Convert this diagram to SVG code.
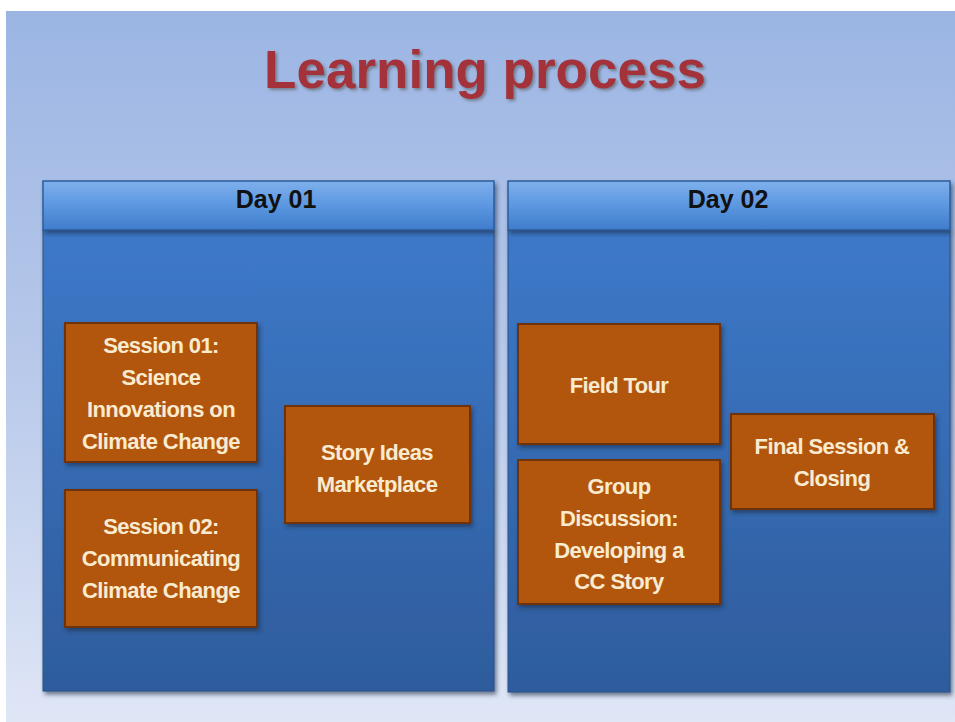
<svg xmlns="http://www.w3.org/2000/svg" width="955" height="722" viewBox="0 0 955 722">
<defs>
<linearGradient id="bg" x1="0" y1="0" x2="0" y2="1">
<stop offset="0" stop-color="#9bb5e3"/>
<stop offset="0.5" stop-color="#b8c9ea"/>
<stop offset="1" stop-color="#dfe6f6"/>
</linearGradient>
<linearGradient id="panel" x1="0" y1="0" x2="0" y2="1">
<stop offset="0" stop-color="#3d79c9"/>
<stop offset="1" stop-color="#2e5c9c"/>
</linearGradient>
<linearGradient id="head" x1="0" y1="0" x2="0" y2="1">
<stop offset="0" stop-color="#7eb0ec"/>
<stop offset="0.5" stop-color="#5c97e0"/>
<stop offset="1" stop-color="#3f7ccc"/>
</linearGradient>
<filter id="sh" x="-10%" y="-10%" width="125%" height="130%">
<feDropShadow dx="2" dy="3" stdDeviation="2" flood-color="#1a2a45" flood-opacity="0.6"/>
</filter>
<filter id="tsh" x="-10%" y="-20%" width="120%" height="150%">
<feDropShadow dx="2" dy="2" stdDeviation="1.5" flood-color="#555" flood-opacity="0.6"/>
</filter>
</defs>
<style>
.box{fill:#b2560f;stroke:#6e3208;stroke-width:2;filter:url(#sh)}
.bt{font-family:"Liberation Sans",Arial,sans-serif;font-weight:bold;font-size:22px;fill:#f9ebd0;text-anchor:middle;letter-spacing:-0.6px}
.day{font-family:"Liberation Sans",Arial,sans-serif;font-weight:bold;font-size:25px;fill:#111;text-anchor:middle}
.hd{fill:url(#head);stroke:#2d5c9a;stroke-width:1.5;filter:url(#sh)}
.pn{fill:url(#panel);stroke:#2a528a;stroke-width:1;filter:url(#sh)}
</style>
<rect x="0" y="0" width="955" height="722" fill="#ffffff"/>
<rect x="6" y="11" width="949" height="711" fill="url(#bg)"/>
<text x="485" y="88" font-family="Liberation Sans,Arial,sans-serif" font-weight="bold" font-size="53" fill="#a3323a" text-anchor="middle" filter="url(#tsh)">Learning process</text>

<g id="day01">
<rect class="pn" x="43" y="230" width="451" height="461"/>
<rect class="hd" x="43" y="181" width="451" height="49"/>
<text class="day" x="276" y="208">Day 01</text>
</g>
<g id="day02">
<rect class="pn" x="508" y="230" width="442" height="462"/>
<rect class="hd" x="508" y="181" width="442" height="49"/>
<text class="day" x="728" y="208">Day 02</text>
</g>

<g id="session01">
<rect class="box" x="65" y="323" width="192" height="139"/>
<text class="bt" x="161" y="353">Session 01:</text>
<text class="bt" x="161" y="385">Science</text>
<text class="bt" x="161" y="417">Innovations on</text>
<text class="bt" x="161" y="449">Climate Change</text>
</g>
<g id="session02">
<rect class="box" x="65" y="490" width="192" height="137"/>
<text class="bt" x="161" y="534">Session 02:</text>
<text class="bt" x="161" y="566">Communicating</text>
<text class="bt" x="161" y="598">Climate Change</text>
</g>
<g id="story">
<rect class="box" x="285" y="406" width="185" height="117"/>
<text class="bt" x="377" y="460">Story Ideas</text>
<text class="bt" x="377" y="492">Marketplace</text>
</g>
<g id="fieldtour">
<rect class="box" x="518" y="324" width="202" height="120"/>
<text class="bt" x="619" y="393">Field Tour</text>
</g>
<g id="group">
<rect class="box" x="518" y="460" width="202" height="144"/>
<text class="bt" x="619" y="494">Group</text>
<text class="bt" x="619" y="526">Discussion:</text>
<text class="bt" x="619" y="558">Developing a</text>
<text class="bt" x="619" y="589">CC Story</text>
</g>
<g id="final">
<rect class="box" x="731" y="414" width="203" height="95"/>
<text class="bt" x="832" y="454">Final Session &amp;</text>
<text class="bt" x="832" y="486">Closing</text>
</g>
<g id="connectors"/>
</svg>
